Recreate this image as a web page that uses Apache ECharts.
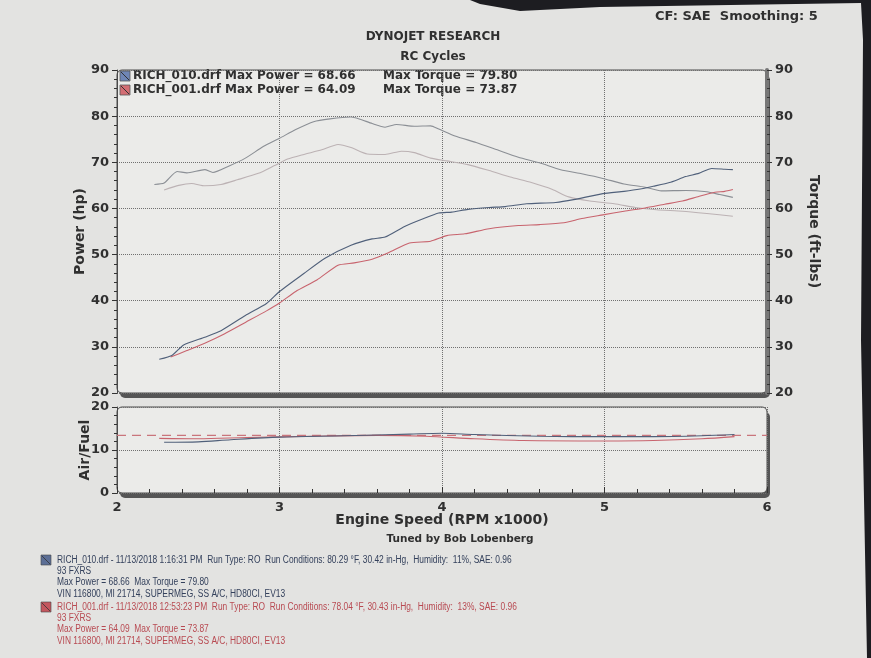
<!DOCTYPE html>
<html><head><meta charset="utf-8">
<script src="https://cdn.jsdelivr.net/npm/echarts@6/dist/echarts.min.js"></script>
<style>html,body{margin:0;padding:0;background:#e3e3e1}#c{width:871px;height:658px}</style>
</head><body><div id="c"></div>
<script>
// ---- Data (RPM x1000) ----
const rpm010Power = [2.26,2.34,2.41,2.54,2.64,2.79,2.92,3.00,3.15,3.28,3.44,3.57,3.65,3.77,3.88,3.98,4.06,4.16,4.29,4.39,4.52,4.70,4.81,4.99,5.12,5.22,5.30,5.40,5.50,5.58,5.66,5.74,5.79];
const power010    = [27.3,28.2,30.4,32.1,33.5,36.8,39.4,42.0,45.9,49.2,52.0,53.4,53.8,56.1,57.7,59.0,59.2,59.8,60.2,60.4,61.0,61.3,61.9,63.2,63.7,64.2,64.8,65.6,66.9,67.6,68.66,68.5,68.4];
const rpm001Power = [2.33,2.43,2.54,2.66,2.79,2.92,3.00,3.10,3.23,3.36,3.46,3.57,3.67,3.80,3.93,4.03,4.14,4.29,4.47,4.60,4.75,4.86,4.99,5.12,5.25,5.37,5.48,5.58,5.68,5.74,5.79];
const power001    = [27.8,29.2,30.8,32.8,35.3,37.8,39.5,42.0,44.5,47.7,48.2,49.0,50.4,52.5,52.9,54.1,54.5,55.6,56.3,56.5,56.9,57.8,58.6,59.4,60.1,60.9,61.6,62.6,63.5,63.7,64.09];
const rpm010Torque = [2.23,2.29,2.37,2.43,2.54,2.59,2.69,2.79,2.90,3.00,3.10,3.21,3.31,3.44,3.49,3.57,3.65,3.72,3.83,3.93,3.98,4.08,4.21,4.34,4.47,4.60,4.73,4.86,4.99,5.12,5.25,5.35,5.50,5.63,5.71,5.79];
const torque010    = [65.2,65.5,68.0,67.7,68.4,67.8,69.2,70.9,73.4,75.2,77.1,78.8,79.4,79.8,79.4,78.4,77.6,78.2,77.8,77.9,77.2,75.7,74.3,72.7,71.1,69.9,68.4,67.5,66.5,65.3,64.6,63.8,63.9,63.6,63.0,62.4];
const rpm001Torque = [2.29,2.38,2.46,2.54,2.64,2.74,2.87,2.97,3.05,3.15,3.26,3.36,3.44,3.54,3.65,3.75,3.83,3.93,4.03,4.16,4.29,4.42,4.55,4.68,4.78,4.91,5.06,5.19,5.32,5.48,5.63,5.79];
const torque001    = [64.0,65.0,65.4,64.9,65.2,66.2,67.6,69.3,70.7,71.7,72.7,73.87,73.2,71.8,71.7,72.4,72.1,70.9,70.3,69.5,68.2,66.8,65.6,64.1,62.5,61.6,61.0,60.2,59.7,59.4,58.9,58.3];
const rpm010AF = [2.29,2.50,2.70,3.00,3.40,3.80,4.00,4.20,4.60,5.00,5.30,5.60,5.80];
const af010    = [11.8,11.9,12.4,13.0,13.3,13.7,13.9,13.6,13.2,13.1,13.1,13.3,13.6];
const rpm001AF = [2.26,2.50,2.80,3.20,3.60,3.90,4.20,4.50,5.00,5.30,5.60,5.80];
const af001    = [12.7,12.6,12.9,13.2,13.4,13.2,12.6,12.2,12.1,12.2,12.6,13.1];
const afTargetRpm = [2, 6];
const afTarget    = [13.4, 13.4];
const xTicks = [2,3,4,5,6];

const legendRows = [
  {name:'RICH_010.drf Max Power = 68.66', torque:'Max Torque = 79.80'},
  {name:'RICH_001.drf Max Power = 64.09', torque:'Max Torque = 73.87'}
];
const notes010 = [
  'RICH_010.drf - 11/13/2018 1:16:31 PM  Run Type: RO  Run Conditions: 80.29 °F, 30.42 in-Hg,  Humidity:  11%, SAE: 0.96',
  '93 FXRS',
  'Max Power = 68.66  Max Torque = 79.80',
  'VIN 116800, MI 21714, SUPERMEG, SS A/C, HD80CI, EV13'
];
const notes001 = [
  'RICH_001.drf - 11/13/2018 12:53:23 PM  Run Type: RO  Run Conditions: 78.04 °F, 30.43 in-Hg,  Humidity:  13%, SAE: 0.96',
  '93 FXRS',
  'Max Power = 64.09  Max Torque = 73.87',
  'VIN 116800, MI 21714, SUPERMEG, SS A/C, HD80CI, EV13'
];

// ---- Styles ----
const F = 'DejaVu Sans';
const C = {p010:'#50607a', p001:'#c8646e', t010:'#8b8f95', t001:'#bcb2b4', txt:'#303030', n010:'#34415c', n001:'#b84a52'};
const pairs = (xs, ys) => xs.map((x,i)=>[x, ys[i]]);

const chart = echarts.init(document.getElementById('c'));
const GL = 117, GW = 650;
const G1 = {top:70, height:323}, G2 = {top:407, height:86};
const dotted = {show:true, lineStyle:{type:'dotted', color:'#707070', width:1}};
const yLabel = {fontFamily:F, fontWeight:'bold', fontSize:13, color:C.txt, margin:8};
const yName = {fontFamily:F, fontWeight:'bold', fontSize:14, color:C.txt};

const graphics = [
  {type:'polygon', silent:true, z:-30, shape:{points:[[470,0],[871,0],[871,658],[867,658],[861,340],[863,40],[861,3],[600,7],[520,11],[480,4]]}, style:{fill:'#1d1d21'}},
  {type:'text', x:433, y:31, style:{text:'DYNOJET RESEARCH', font:'bold 12px '+F, fill:C.txt, align:'center'}},
  {type:'text', x:433, y:51, style:{text:'RC Cycles', font:'bold 12px '+F, fill:C.txt, align:'center'}},
  {type:'text', x:655, y:10, style:{text:'CF: SAE  Smoothing: 5', font:'bold 13px '+F, fill:C.txt}},
  {type:'text', x:460, y:534, style:{text:'Tuned by Bob Lobenberg', font:'bold 10.5px '+F, fill:C.txt, align:'center'}}
];
// plot boxes with drop shadow
[G1, G2].forEach(g=>{
  graphics.push({type:'rect', z:-21, silent:true, shape:{x:GL+3, y:g.top+5, width:GW, height:g.height, r:5}, style:{fill:'#555'}});
  graphics.push({type:'rect', z:-20, silent:true, shape:{x:GL, y:g.top, width:GW, height:g.height, r:5}, style:{fill:'#ebebe9', stroke:'#4a4a4a', lineWidth:1}});
});
// legend
legendRows.forEach((r,i)=>{
  const y = 71 + i*14;
  const col = i===0 ? '#6f86b5' : '#d36d73';
  graphics.push({type:'rect', shape:{x:120, y:y, width:10, height:10}, style:{fill:col, stroke:'#555', lineWidth:0.8}});
  graphics.push({type:'line', shape:{x1:121, y1:y+1, x2:129, y2:y+9}, style:{stroke:'#333', lineWidth:1}});
  graphics.push({type:'text', x:133, y:y-1, style:{text:r.name, font:'bold 12px '+F, fill:C.txt}});
  graphics.push({type:'text', x:383, y:y-1, style:{text:r.torque, font:'bold 12px '+F, fill:C.txt}});
});
// bottom notes
[[notes010, C.n010, '#5c6f96', 555], [notes001, C.n001, '#c4575e', 602]].forEach(([lines, col, icol, y0])=>{
  graphics.push({type:'rect', shape:{x:41, y:y0, width:10, height:10}, style:{fill:icol, stroke:'#444', lineWidth:0.6}});
  graphics.push({type:'line', shape:{x1:42, y1:y0+1, x2:50, y2:y0+9}, style:{stroke:'#333', lineWidth:0.8}});
  lines.forEach((t,i)=>{
    graphics.push({type:'text', x:57, y:y0 + i*11.3, scaleX:0.84, style:{text:t, font:'10px "Liberation Sans"', fill:col}});
  });
});

const option = {
  backgroundColor:'#e3e3e1',
  animation:false,
  grid:[
    {left:GL, top:G1.top, width:GW, height:G1.height},
    {left:GL, top:G2.top, width:GW, height:G2.height}
  ],
  xAxis:[
    {type:'value', gridIndex:0, min:xTicks[0], max:xTicks[xTicks.length-1], interval:1, axisLine:{show:false}, axisTick:{show:false}, axisLabel:{show:false}, splitLine:dotted},
    {type:'value', gridIndex:1, min:xTicks[0], max:xTicks[xTicks.length-1], interval:1,
     axisLine:{show:false}, axisTick:{show:true, inside:true, length:6, lineStyle:{color:'#333'}},
     minorTick:{show:true, splitNumber:5, length:4, lineStyle:{color:'#333'}},
     axisLabel:{fontFamily:F, fontWeight:'bold', fontSize:13, color:C.txt, margin:8},
     splitLine:dotted,
     name:'Engine Speed (RPM x1000)', nameLocation:'middle', nameGap:20, nameMoveOverlap:false,
     nameTextStyle:{fontFamily:F, fontWeight:'bold', fontSize:14, color:C.txt}}
  ],
  yAxis:[
    {type:'value', gridIndex:0, position:'left', min:20, max:90, interval:10,
     axisLine:{show:true, lineStyle:{color:'#4a4a4a'}}, axisTick:{show:true, length:5, lineStyle:{color:'#333'}},
     minorTick:{show:true, splitNumber:5, length:3, lineStyle:{color:'#333'}},
     axisLabel:yLabel, splitLine:dotted,
     name:'Power (hp)', nameLocation:'middle', nameGap:30, nameMoveOverlap:false, nameRotate:90, nameTextStyle:yName},
    {type:'value', gridIndex:0, position:'right', min:20, max:90, interval:10,
     axisLine:{show:true, lineStyle:{color:'#777', width:4}}, axisTick:{show:true, length:5, lineStyle:{color:'#333'}},
     minorTick:{show:true, splitNumber:5, length:3, lineStyle:{color:'#333'}},
     axisLabel:yLabel, splitLine:{show:false},
     name:'Torque (ft-lbs)', nameLocation:'middle', nameGap:40, nameRotate:-90, nameTextStyle:yName},
    {type:'value', gridIndex:1, position:'left', min:0, max:20, interval:10,
     axisLine:{show:true, lineStyle:{color:'#4a4a4a'}}, axisTick:{show:true, length:5, lineStyle:{color:'#333'}},
     minorTick:{show:true, splitNumber:5, length:3, lineStyle:{color:'#333'}},
     axisLabel:yLabel, splitLine:{show:true, lineStyle:{type:'dotted', color:'#707070'}},
     name:'Air/Fuel', nameLocation:'middle', nameGap:25, nameMoveOverlap:false, nameRotate:90, nameTextStyle:yName}
  ],
  series:[
    {type:'line', name:'RICH_010 Torque', xAxisIndex:0, yAxisIndex:1, data:pairs(rpm010Torque, torque010), showSymbol:false, smooth:0.2, lineStyle:{color:C.t010, width:1.1}},
    {type:'line', name:'RICH_001 Torque', xAxisIndex:0, yAxisIndex:1, data:pairs(rpm001Torque, torque001), showSymbol:false, smooth:0.2, lineStyle:{color:C.t001, width:1.1}},
    {type:'line', name:'RICH_001 Power', xAxisIndex:0, yAxisIndex:0, data:pairs(rpm001Power, power001), showSymbol:false, smooth:0.2, lineStyle:{color:C.p001, width:1.1}},
    {type:'line', name:'RICH_010 Power', xAxisIndex:0, yAxisIndex:0, data:pairs(rpm010Power, power010), showSymbol:false, smooth:0.2, lineStyle:{color:C.p010, width:1.1}},
    {type:'line', name:'Target A/F', xAxisIndex:1, yAxisIndex:2, data:pairs(afTargetRpm, afTarget), showSymbol:false, lineStyle:{color:'#c9757c', width:1.1, type:[9,6]}},
    {type:'line', name:'RICH_001 A/F', xAxisIndex:1, yAxisIndex:2, data:pairs(rpm001AF, af001), showSymbol:false, smooth:0.3, lineStyle:{color:C.p001, width:1.1}},
    {type:'line', name:'RICH_010 A/F', xAxisIndex:1, yAxisIndex:2, data:pairs(rpm010AF, af010), showSymbol:false, smooth:0.3, lineStyle:{color:C.p010, width:1.1}}
  ],
  graphic:graphics
};
chart.setOption(option);
</script></body></html>
